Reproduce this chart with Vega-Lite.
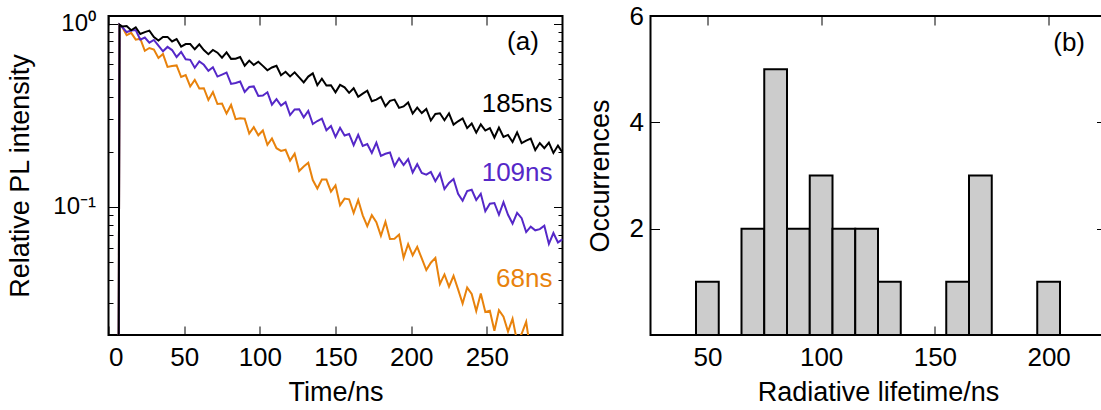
{
  "$schema": "https://vega.github.io/schema/vega-lite/v6.json",
  "autosize": "none",
  "padding": {"left": 108.5, "top": 16, "right": 992.5, "bottom": 394},
  "background": "white",
  "bounds": "flush",
  "spacing": 88,
  "config": {
    "font": "Liberation Sans",
    "view": {"stroke": "black", "strokeWidth": 2},
    "axis": {
      "labelFont": "Liberation Sans",
      "titleFont": "Liberation Sans",
      "labelFontSize": 26,
      "titleFontSize": 27,
      "titleFontWeight": "normal",
      "labelColor": "black",
      "titleColor": "black",
      "tickColor": "black",
      "tickWidth": 1,
      "grid": false,
      "domain": false,
      "labelOverlap": false
    },
    "text": {"font": "Liberation Sans", "fontSize": 26}
  },
  "hconcat": [
    {
      "width": 454,
      "height": 319,
      "layer": [
        {
          "data": {
            "values": [
              {"t": 0, "185ns": 0.001, "109ns": 0.001, "68ns": 0.001},
              {"t": 6.3, "185ns": 0.001, "109ns": 0.001, "68ns": 0.001},
              {"t": 7.3, "185ns": 0.985, "109ns": 0.985, "68ns": 0.985},
              {"t": 9, "185ns": 0.965, "109ns": 0.957, "68ns": 0.960},
              {"t": 12, "185ns": 0.971, "109ns": 0.899, "68ns": 0.865},
              {"t": 15, "185ns": 0.920, "109ns": 0.916, "68ns": 0.890},
              {"t": 18, "185ns": 0.955, "109ns": 0.922, "68ns": 0.817},
              {"t": 21, "185ns": 0.878, "109ns": 0.818, "68ns": 0.827},
              {"t": 24, "185ns": 0.898, "109ns": 0.839, "68ns": 0.710},
              {"t": 27, "185ns": 0.915, "109ns": 0.787, "68ns": 0.736},
              {"t": 30, "185ns": 0.845, "109ns": 0.814, "68ns": 0.721},
              {"t": 33, "185ns": 0.809, "109ns": 0.759, "68ns": 0.649},
              {"t": 36, "185ns": 0.846, "109ns": 0.706, "68ns": 0.682},
              {"t": 39, "185ns": 0.846, "109ns": 0.746, "68ns": 0.580},
              {"t": 42, "185ns": 0.799, "109ns": 0.717, "68ns": 0.587},
              {"t": 45, "185ns": 0.824, "109ns": 0.657, "68ns": 0.591},
              {"t": 48, "185ns": 0.749, "109ns": 0.701, "68ns": 0.511},
              {"t": 51, "185ns": 0.773, "109ns": 0.639, "68ns": 0.524},
              {"t": 54, "185ns": 0.773, "109ns": 0.634, "68ns": 0.454},
              {"t": 57, "185ns": 0.724, "109ns": 0.574, "68ns": 0.493},
              {"t": 60, "185ns": 0.770, "109ns": 0.621, "68ns": 0.443},
              {"t": 63, "185ns": 0.717, "109ns": 0.596, "68ns": 0.444},
              {"t": 66, "185ns": 0.681, "109ns": 0.552, "68ns": 0.383},
              {"t": 69, "185ns": 0.718, "109ns": 0.578, "68ns": 0.423},
              {"t": 72, "185ns": 0.694, "109ns": 0.514, "68ns": 0.364},
              {"t": 75, "185ns": 0.652, "109ns": 0.527, "68ns": 0.366},
              {"t": 78, "185ns": 0.696, "109ns": 0.541, "68ns": 0.323},
              {"t": 81, "185ns": 0.642, "109ns": 0.469, "68ns": 0.360},
              {"t": 84, "185ns": 0.643, "109ns": 0.474, "68ns": 0.301},
              {"t": 87, "185ns": 0.657, "109ns": 0.483, "68ns": 0.304},
              {"t": 90, "185ns": 0.589, "109ns": 0.424, "68ns": 0.303},
              {"t": 93, "185ns": 0.628, "109ns": 0.451, "68ns": 0.251},
              {"t": 96, "185ns": 0.595, "109ns": 0.454, "68ns": 0.272},
              {"t": 99, "185ns": 0.619, "109ns": 0.403, "68ns": 0.246},
              {"t": 102, "185ns": 0.588, "109ns": 0.405, "68ns": 0.261},
              {"t": 105, "185ns": 0.556, "109ns": 0.422, "68ns": 0.218},
              {"t": 108, "185ns": 0.576, "109ns": 0.361, "68ns": 0.236},
              {"t": 111, "185ns": 0.589, "109ns": 0.387, "68ns": 0.209},
              {"t": 114, "185ns": 0.523, "109ns": 0.357, "68ns": 0.202},
              {"t": 117, "185ns": 0.546, "109ns": 0.373, "68ns": 0.205},
              {"t": 120, "185ns": 0.515, "109ns": 0.317, "68ns": 0.179},
              {"t": 123, "185ns": 0.542, "109ns": 0.340, "68ns": 0.195},
              {"t": 126, "185ns": 0.509, "109ns": 0.341, "68ns": 0.157},
              {"t": 129, "185ns": 0.478, "109ns": 0.308, "68ns": 0.166},
              {"t": 132, "185ns": 0.514, "109ns": 0.334, "68ns": 0.174},
              {"t": 135, "185ns": 0.535, "109ns": 0.283, "68ns": 0.140},
              {"t": 138, "185ns": 0.461, "109ns": 0.294, "68ns": 0.126},
              {"t": 141, "185ns": 0.500, "109ns": 0.303, "68ns": 0.141},
              {"t": 144, "185ns": 0.459, "109ns": 0.262, "68ns": 0.141},
              {"t": 147, "185ns": 0.461, "109ns": 0.276, "68ns": 0.121},
              {"t": 150, "185ns": 0.422, "109ns": 0.241, "68ns": 0.131},
              {"t": 153, "185ns": 0.463, "109ns": 0.270, "68ns": 0.102},
              {"t": 156, "185ns": 0.449, "109ns": 0.245, "68ns": 0.111},
              {"t": 159, "185ns": 0.419, "109ns": 0.250, "68ns": 0.110},
              {"t": 162, "185ns": 0.444, "109ns": 0.217, "68ns": 0.0926},
              {"t": 165, "185ns": 0.399, "109ns": 0.247, "68ns": 0.109},
              {"t": 168, "185ns": 0.415, "109ns": 0.215, "68ns": 0.0899},
              {"t": 171, "185ns": 0.430, "109ns": 0.220, "68ns": 0.0784},
              {"t": 174, "185ns": 0.377, "109ns": 0.197, "68ns": 0.0901},
              {"t": 177, "185ns": 0.385, "109ns": 0.224, "68ns": 0.0825},
              {"t": 180, "185ns": 0.398, "109ns": 0.190, "68ns": 0.0696},
              {"t": 183, "185ns": 0.354, "109ns": 0.195, "68ns": 0.0829},
              {"t": 186, "185ns": 0.379, "109ns": 0.198, "68ns": 0.0668},
              {"t": 189, "185ns": 0.385, "109ns": 0.167, "68ns": 0.0670},
              {"t": 192, "185ns": 0.347, "109ns": 0.184, "68ns": 0.0706},
              {"t": 195, "185ns": 0.353, "109ns": 0.169, "68ns": 0.0528},
              {"t": 198, "185ns": 0.371, "109ns": 0.182, "68ns": 0.0627},
              {"t": 201, "185ns": 0.323, "109ns": 0.154, "68ns": 0.0544},
              {"t": 204, "185ns": 0.348, "109ns": 0.171, "68ns": 0.0605},
              {"t": 207, "185ns": 0.325, "109ns": 0.153, "68ns": 0.0523},
              {"t": 210, "185ns": 0.342, "109ns": 0.150, "68ns": 0.0452},
              {"t": 213, "185ns": 0.296, "109ns": 0.155, "68ns": 0.0496},
              {"t": 216, "185ns": 0.321, "109ns": 0.138, "68ns": 0.0527},
              {"t": 219, "185ns": 0.324, "109ns": 0.152, "68ns": 0.0380},
              {"t": 222, "185ns": 0.297, "109ns": 0.125, "68ns": 0.0428},
              {"t": 225, "185ns": 0.324, "109ns": 0.135, "68ns": 0.0367},
              {"t": 228, "185ns": 0.281, "109ns": 0.142, "68ns": 0.0421},
              {"t": 231, "185ns": 0.293, "109ns": 0.118, "68ns": 0.0355},
              {"t": 234, "185ns": 0.304, "109ns": 0.108, "68ns": 0.0297},
              {"t": 237, "185ns": 0.269, "109ns": 0.122, "68ns": 0.0363},
              {"t": 240, "185ns": 0.285, "109ns": 0.124, "68ns": 0.0335},
              {"t": 243, "185ns": 0.254, "109ns": 0.109, "68ns": 0.0270},
              {"t": 246, "185ns": 0.282, "109ns": 0.118, "68ns": 0.0337},
              {"t": 249, "185ns": 0.261, "109ns": 0.0947, "68ns": 0.0267},
              {"t": 252, "185ns": 0.269, "109ns": 0.104, "68ns": 0.0271},
              {"t": 255, "185ns": 0.239, "109ns": 0.105, "68ns": 0.0211},
              {"t": 258, "185ns": 0.271, "109ns": 0.0906, "68ns": 0.0273},
              {"t": 261, "185ns": 0.241, "109ns": 0.106, "68ns": 0.0252},
              {"t": 264, "185ns": 0.247, "109ns": 0.0905, "68ns": 0.0209},
              {"t": 267, "185ns": 0.226, "109ns": 0.0811, "68ns": 0.0245},
              {"t": 270, "185ns": 0.255, "109ns": 0.0927, "68ns": 0.0184},
              {"t": 273, "185ns": 0.223, "109ns": 0.0868, "68ns": 0.0203},
              {"t": 276, "185ns": 0.230, "109ns": 0.0729, "68ns": 0.0236},
              {"t": 279, "185ns": 0.236, "109ns": 0.0780, "68ns": 0.0160},
              {"t": 282, "185ns": 0.204, "109ns": 0.0745, "68ns": 0.0169},
              {"t": 285, "185ns": 0.223, "109ns": 0.0756, "68ns": 0.0172},
              {"t": 288, "185ns": 0.209, "109ns": 0.0790, "68ns": 0.0143},
              {"t": 291, "185ns": 0.224, "109ns": 0.0628, "68ns": 0.0155},
              {"t": 294, "185ns": 0.197, "109ns": 0.0720, "68ns": 0.0155},
              {"t": 297, "185ns": 0.216, "109ns": 0.0640, "68ns": 0.0131},
              {"t": 300, "185ns": 0.198, "109ns": 0.0665, "68ns": 0.0131}
            ]
          },
          "transform": [{"fold": ["68ns", "109ns", "185ns"], "as": ["s", "v"]}],
          "mark": {"type": "line", "clip": true, "strokeWidth": 2},
          "encoding": {
            "x": {
              "field": "t", "type": "quantitative",
              "scale": {"domain": [0, 300], "nice": false, "zero": false},
              "axis": {"orient": "bottom", "values": [0, 50, 100, 150, 200, 250], "title": "Time/ns", "tickSize": -9, "labelPadding": 18, "titlePadding": 9}
            },
            "y": {
              "field": "v", "type": "quantitative",
              "scale": {"type": "log", "domain": [0.02, 1.1], "nice": false},
              "axis": {"orient": "left", "values": [0.1, 1], "labelExpr": "datum.value > 0.5 ? '10⁰' : '10⁻¹'", "labelFontSize": 24, "title": "Relative PL intensity", "tickSize": -9, "labelPadding": 22, "titlePadding": 18}
            },
            "color": {
              "field": "s", "type": "nominal",
              "scale": {"domain": ["68ns", "109ns", "185ns"], "range": ["#e8820c", "#5528c8", "#000000"]},
              "legend": null
            },
            "order": {"field": "t", "type": "quantitative"}
          }
        },
        {
          "data": {
            "values": [
              {"lx": 293.4, "ly": 0.364, "label": "185ns"},
              {"lx": 293.4, "ly": 0.153, "label": "109ns"},
              {"lx": 293.4, "ly": 0.0404, "label": "68ns"}
            ]
          },
          "mark": {"type": "text", "align": "right", "baseline": "middle", "fontSize": 26},
          "encoding": {
            "x": {"field": "lx", "type": "quantitative", "axis": {"orient": "top", "values": [0, 50, 100, 150, 200, 250], "labels": false, "title": null, "tickSize": -9}},
            "y": {"field": "ly", "type": "quantitative", "scale": {"type": "log"}, "axis": {"orient": "left", "values": [0.02, 0.03, 0.04, 0.05, 0.06, 0.07, 0.08, 0.09, 0.2, 0.3, 0.4, 0.5, 0.6, 0.7, 0.8, 0.9], "labels": false, "title": null, "tickSize": -4.5}},
            "text": {"field": "label"},
            "color": {"field": "label", "type": "nominal", "legend": null}
          }
        },
        {
          "data": {"values": [{"px": 284.4, "py": 0.789, "p": "(a)"}]},
          "mark": {"type": "text", "align": "right", "baseline": "middle", "fontSize": 26, "color": "black"},
          "encoding": {
            "x": {"field": "px", "type": "quantitative", "axis": null},
            "y": {"field": "py", "type": "quantitative", "scale": {"type": "log"}, "axis": {"orient": "right", "values": [0.1, 1], "labels": false, "title": null, "tickSize": -9}},
            "text": {"field": "p"}
          }
        },
        {
          "data": {"values": [{"px": 284.4, "py": 0.789}]},
          "mark": {"type": "point", "opacity": 0},
          "encoding": {
            "x": {"field": "px", "type": "quantitative", "axis": null},
            "y": {"field": "py", "type": "quantitative", "scale": {"type": "log"}, "axis": {"orient": "right", "values": [0.02, 0.03, 0.04, 0.05, 0.06, 0.07, 0.08, 0.09, 0.2, 0.3, 0.4, 0.5, 0.6, 0.7, 0.8, 0.9], "labels": false, "title": null, "tickSize": -4.5}}
          }
        }
      ],
      "resolve": {"axis": {"x": "independent", "y": "independent"}}
    },
    {
      "width": 455,
      "height": 319,
      "layer": [
        {
          "data": {
            "values": [
              {"lo": 45, "hi": 55, "n": 1},
              {"lo": 65, "hi": 75, "n": 2},
              {"lo": 75, "hi": 85, "n": 5},
              {"lo": 85, "hi": 95, "n": 2},
              {"lo": 95, "hi": 105, "n": 3},
              {"lo": 105, "hi": 115, "n": 2},
              {"lo": 115, "hi": 125, "n": 2},
              {"lo": 125, "hi": 135, "n": 1},
              {"lo": 155, "hi": 165, "n": 1},
              {"lo": 165, "hi": 175, "n": 3},
              {"lo": 195, "hi": 205, "n": 1}
            ]
          },
          "mark": {"type": "bar", "fill": "#cccccc", "stroke": "black", "strokeWidth": 2},
          "encoding": {
            "x": {
              "field": "lo", "type": "quantitative",
              "scale": {"domain": [25, 225], "nice": false, "zero": false},
              "axis": {"orient": "bottom", "values": [50, 100, 150, 200], "title": "Radiative lifetime/ns", "tickSize": -9, "labelPadding": 18, "titlePadding": 9}
            },
            "x2": {"field": "hi"},
            "y": {
              "field": "n", "type": "quantitative",
              "scale": {"domain": [0, 6], "nice": false},
              "axis": {"orient": "left", "values": [2, 4, 6], "title": "Occurrences", "tickSize": -9, "labelPadding": 16, "titlePadding": 15}
            },
            "y2": {"datum": 0}
          }
        },
        {
          "data": {"values": [{"bx": 216, "by": 5.5, "b": "(b)"}]},
          "mark": {"type": "text", "align": "right", "baseline": "middle", "fontSize": 26, "color": "black"},
          "encoding": {
            "x": {"field": "bx", "type": "quantitative", "axis": {"orient": "top", "values": [50, 100, 150, 200], "labels": false, "title": null, "tickSize": -9}},
            "y": {"field": "by", "type": "quantitative", "axis": {"orient": "right", "values": [2, 4], "labels": false, "title": null, "tickSize": -9}},
            "text": {"field": "b"}
          }
        }
      ],
      "resolve": {"axis": {"x": "independent", "y": "independent"}}
    }
  ]
}
